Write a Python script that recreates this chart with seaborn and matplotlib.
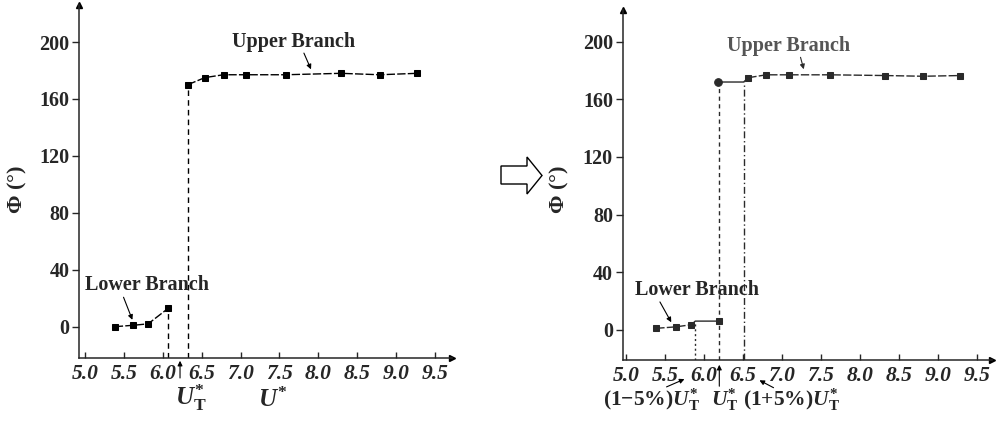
import matplotlib
matplotlib.use("Agg")
import numpy as np
import pandas as pd
import seaborn as sns
import matplotlib.pyplot as plt
from matplotlib.patches import Polygon

# ---------------- data ----------------
x_ticks = [5.0, 5.5, 6.0, 6.5, 7.0, 7.5, 8.0, 8.5, 9.0, 9.5]
x_tick_labels = ["5.0", "5.5", "6.0", "6.5", "7.0", "7.5", "8.0", "8.5", "9.0", "9.5"]
y_ticks = [0, 40, 80, 120, 160, 200]
y_tick_labels = ["0", "40", "80", "120", "160", "200"]

left_lower_x = [5.38, 5.62, 5.81, 6.07]
left_lower_y = [0, 1, 2, 13]
left_upper_x = [6.32, 6.54, 6.78, 7.07, 7.58, 8.29, 8.79, 9.27]
left_upper_y = [170, 175, 177, 177, 177, 178, 177, 178]
u_t_left = 6.22

right_lower_x = [5.39, 5.64, 5.84, 6.19]
right_lower_y = [1, 2, 3.5, 6]
right_upper_x = [6.18, 6.57, 6.80, 7.09, 7.62, 8.32, 8.81, 9.29]
right_upper_y = [172, 175, 177, 177, 177, 176.5, 176, 176.5]
u_t_right = 6.2
u_t_lo = 0.95 * u_t_right
u_t_hi = 1.05 * u_t_right

# ---------------- style ----------------
sns.set_style("ticks")
plt.rcParams["font.family"] = ["Liberation Serif", "DejaVu Serif"]
plt.rcParams["font.weight"] = "bold"
plt.rcParams["mathtext.fontset"] = "custom"
plt.rcParams["mathtext.rm"] = "Liberation Serif:bold"
plt.rcParams["mathtext.it"] = "Liberation Serif:italic:bold"
plt.rcParams["mathtext.bf"] = "Liberation Serif:bold"

W, H = 999, 421
fig = plt.figure(figsize=(W / 100, H / 100), dpi=100)
fig.patch.set_facecolor("white")


def fp(x, y):
    return (x / W, 1 - y / H)


def make_axes(l, r, t, b):
    return fig.add_axes([l / W, 1 - b / H, (r - l) / W, (b - t) / H])


axL = make_axes(79, 452, 5, 358)
axR = make_axes(622.7, 991.7, 10, 360)

XTS = 15.5
YTS = 14.5
LBS = 14.5
dash = (0, (6, 1.6))


def style_axes(ax, xlim, ylim):
    ax.set_xlim(*xlim)
    ax.set_ylim(*ylim)
    ax.set_xticks(x_ticks)
    ax.set_xticklabels(x_tick_labels, fontsize=XTS, fontweight="bold", fontstyle="italic")
    ax.set_yticks(y_ticks)
    ax.set_yticklabels(y_tick_labels, fontsize=YTS, fontweight="bold")
    ax.tick_params(axis="x", direction="in", length=4, width=1, pad=4)
    ax.tick_params(axis="y", direction="out", length=5, width=1, pad=2)
    for s in ["top", "right"]:
        ax.spines[s].set_visible(False)
    for s in ["left", "bottom"]:
        ax.spines[s].set_linewidth(1.1)
    ax.plot(1, 0, marker=">", color="k", markersize=5, transform=ax.transAxes, clip_on=False)
    ax.plot(0, 1, marker="^", color="k", markersize=5, transform=ax.transAxes, clip_on=False)
    ax.set_xlabel("")
    ax.set_ylabel("")


# ---------------- left panel ----------------
style_axes(axL, (4.92, 9.72), (-22, 226))
sns.lineplot(x=left_lower_x, y=left_lower_y, ax=axL, color="k", marker="s", markersize=5,
             linewidth=1, linestyle=dash, sort=False, estimator=None, mec="k")
sns.lineplot(x=left_upper_x, y=left_upper_y, ax=axL, color="k", marker="s", markersize=5,
             linewidth=1, linestyle=dash, sort=False, estimator=None, mec="k")
axL.vlines(left_lower_x[-1], -22, left_lower_y[-1], colors="k", linestyles=(0, (4, 3)), linewidth=1)
axL.vlines(left_upper_x[0], -22, left_upper_y[0], colors="k", linestyles=(0, (4, 3)), linewidth=1)

axL.text(7.68, 200, "Upper Branch", fontsize=LBS, fontweight="bold", ha="center", va="center")
axL.annotate("", xy=(7.92, 179), xytext=(7.80, 194),
             arrowprops=dict(arrowstyle="-|>", color="k", lw=0.8, mutation_scale=7))
axL.text(5.8, 29.5, "Lower Branch", fontsize=LBS, fontweight="bold", ha="center", va="center")
axL.annotate("", xy=(5.62, 3), xytext=(5.48, 22.5),
             arrowprops=dict(arrowstyle="-|>", color="k", lw=0.8, mutation_scale=7))
axL.annotate("", xy=(u_t_left, -22), xytext=(u_t_left, -38), annotation_clip=False,
             arrowprops=dict(arrowstyle="-|>", color="k", lw=0.8, mutation_scale=7))

fig.text(*fp(175, 398), r"$U^{*}_{\mathrm{T}}$", fontsize=18, ha="left", va="center")
fig.text(*fp(273, 400), r"$U^{*}$", fontsize=18, ha="center", va="center")
fig.text(*fp(17, 190), r"$\mathit{\Phi}$ (°)", fontsize=16, rotation=90, ha="center", va="center")

# ---------------- right panel ----------------
style_axes(axR, (4.96, 9.69), (-21, 222))
dk = "#2a2a2a"
sns.lineplot(x=right_lower_x[:3], y=right_lower_y[:3], ax=axR, color=dk, marker="s", markersize=5,
             linewidth=1, linestyle=dash, sort=False, estimator=None, mec=dk)
axR.plot([right_lower_x[2], u_t_lo, right_lower_x[3]],
         [right_lower_y[2], right_lower_y[3], right_lower_y[3]], color=dk, lw=1)
sns.lineplot(x=right_lower_x[3:], y=right_lower_y[3:], ax=axR, color=dk, marker="s", markersize=5,
             linewidth=1, sort=False, estimator=None, mec=dk)
axR.plot([right_upper_x[0], u_t_hi, right_upper_x[1]],
         [right_upper_y[0], right_upper_y[0], right_upper_y[1]], color=dk, lw=1)
sns.lineplot(x=right_upper_x[:1], y=right_upper_y[:1], ax=axR, color=dk, marker="o", markersize=5.5,
             linewidth=0, sort=False, estimator=None, mec=dk)
sns.lineplot(x=right_upper_x[1:], y=right_upper_y[1:], ax=axR, color=dk, marker="s", markersize=5,
             linewidth=1, linestyle=dash, sort=False, estimator=None, mec=dk)
axR.vlines(u_t_lo, -21, right_lower_y[3], colors=dk, linestyles=(0, (1.5, 2)), linewidth=1)
axR.vlines(right_lower_x[3], -21, right_upper_y[0], colors=dk, linestyles=(0, (3, 2.5)), linewidth=1)
axR.vlines(u_t_hi, -21, right_upper_y[0], colors=dk, linestyles=(0, (5, 2, 1, 2)), linewidth=1)

axR.text(7.08, 197, "Upper Branch", fontsize=LBS, fontweight="bold", ha="center", va="center",
         color="#555555")
axR.annotate("", xy=(7.29, 179), xytext=(7.23, 191),
             arrowprops=dict(arrowstyle="-|>", color=dk, lw=0.8, mutation_scale=7))
axR.text(5.91, 27.8, "Lower Branch", fontsize=LBS, fontweight="bold", ha="center", va="center")
axR.annotate("", xy=(5.60, 3.5), xytext=(5.42, 21),
             arrowprops=dict(arrowstyle="-|>", color="k", lw=0.8, mutation_scale=7))

ap = dict(arrowstyle="-|>", color="k", lw=0.8, mutation_scale=7)
fig.add_artist(plt.Annotation("", xy=fp(687, 378), xytext=fp(664, 388), xycoords="figure fraction",
                              textcoords="figure fraction", arrowprops=ap))
fig.add_artist(plt.Annotation("", xy=fp(719.3, 362), xytext=fp(719.3, 389), xycoords="figure fraction",
                              textcoords="figure fraction", arrowprops=ap))
fig.add_artist(plt.Annotation("", xy=fp(757, 379), xytext=fp(776, 389), xycoords="figure fraction",
                              textcoords="figure fraction", arrowprops=ap))

BTS = 15.5
fig.text(*fp(603, 400), r"(1−5%)$U^{*}_{\mathrm{T}}$", fontsize=BTS, ha="left", va="center")
fig.text(*fp(711, 400), r"$U^{*}_{\mathrm{T}}$", fontsize=BTS, ha="left", va="center")
fig.text(*fp(743, 400), r"(1+5%)$U^{*}_{\mathrm{T}}$", fontsize=BTS, ha="left", va="center")
fig.text(*fp(559, 190), r"$\mathit{\Phi}$ (°)", fontsize=16, rotation=90, ha="center", va="center")

# hollow block arrow between the panels
pts = [(501, 166), (527, 166), (527, 157), (542, 175.5), (527, 194), (527, 184), (501, 184)]
poly = Polygon([fp(x, y) for x, y in pts], closed=True, fill=False, edgecolor="k", lw=1,
               transform=fig.transFigure)
fig.add_artist(poly)

fig.savefig("out.png", dpi=100, facecolor="white")
